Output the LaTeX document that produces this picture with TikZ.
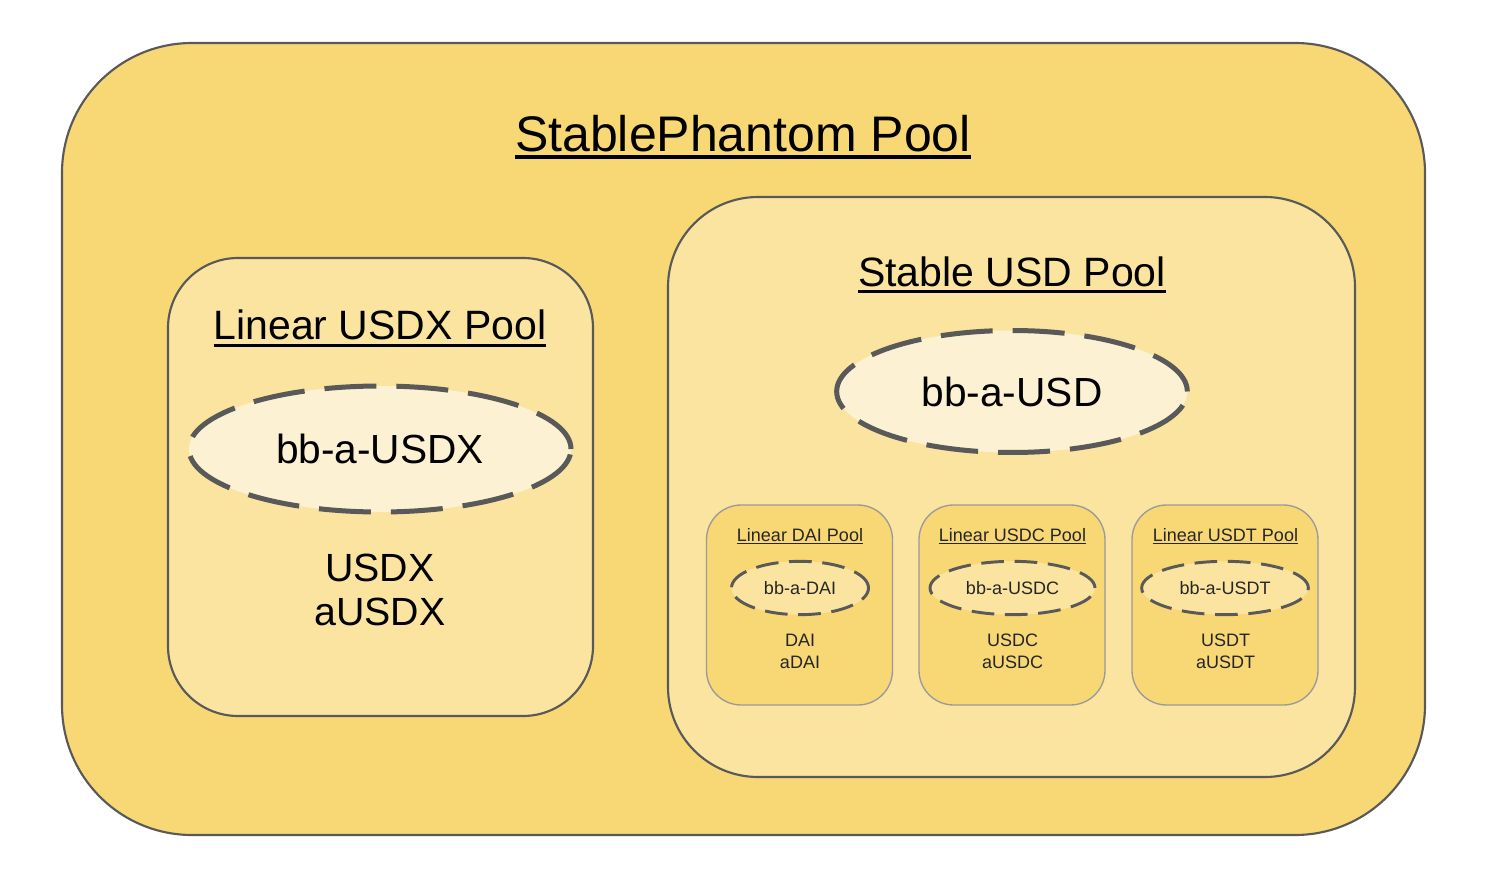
\documentclass[tikz,border=0pt]{standalone}
\usepackage{fontspec}
\setmainfont{Liberation Sans}
\usetikzlibrary{shapes.geometric}
\definecolor{outerY}{HTML}{F8D775}
\definecolor{midY}{HTML}{FAE49F}
\definecolor{paleY}{HTML}{FCF1D2}
\definecolor{edgegray}{HTML}{595959}
\definecolor{smalledge}{HTML}{9A9A9A}
\newsavebox\ulbox
\newcommand\myul[3]{\sbox\ulbox{#3}\rlap{\usebox\ulbox}\rule[-#1]{\wd\ulbox}{#2}}
\begin{document}
\begin{tikzpicture}[x=0.75pt,y=-0.75pt,
  poolbox/.style={draw=edgegray, line width=1.6pt, inner sep=0pt},
  smallbox/.style={draw=smalledge, line width=1pt, fill=outerY, rounded corners=26pt, minimum width=139.5pt, minimum height=150pt, inner sep=0pt},
  bigtoken/.style={ellipse, draw=edgegray, line width=3.75pt, dash pattern=on 39pt off 15pt, fill=paleY, inner sep=0pt, font=\fontsize{30.5}{36}\selectfont},
  smalltoken/.style={ellipse, draw=edgegray, line width=2.2pt, dash pattern=on 17pt off 8pt, fill=midY, inner sep=0pt, minimum height=40pt, font=\fontsize{13.5}{16}\selectfont, text=black!85},
  hugetxt/.style={anchor=base, inner sep=0pt, font=\fontsize{37.5}{44}\selectfont},
  bigtxt/.style={anchor=base, inner sep=0pt, font=\fontsize{30.75}{36}\selectfont},
  midtxt/.style={anchor=base, inner sep=0pt, font=\fontsize{29.5}{35}\selectfont},
  smalltxt/.style={anchor=base, inner sep=0pt, font=\fontsize{13.5}{16}\selectfont, text=black!85},
]
\useasboundingbox (0,0) rectangle (1486,884);

% outer pool
\node[poolbox, fill=outerY, rounded corners=97.5pt, minimum width=1022.25pt, minimum height=594pt] (outer) at (743.5,439) {};
\node[hugetxt] (title) at (743,151.7) {\myul{5.25pt}{3pt}{StablePhantom Pool}};

% linear USDX pool
\node[poolbox, fill=midY, rounded corners=52.5pt, minimum width=318.75pt, minimum height=343.5pt] (usdxpool) at (380.5,487) {};
\node[bigtxt] (usdxtitle) at (380,340) {\myul{4.9pt}{2.25pt}{Linear USDX Pool}};
\node[bigtoken, minimum width=286.5pt, minimum height=94.5pt] (bbusdx) at (380,449) {bb-a-USDX};
\node[midtxt] (usdx) at (380,581.7) {USDX};
\node[midtxt] (ausdx) at (380,625) {aUSDX};

% stable USD pool
\node[poolbox, fill=midY, rounded corners=67.5pt, minimum width=515.25pt, minimum height=435pt] (usdpool) at (1011.5,487) {};
\node[bigtxt] (usdtitle) at (1012,286.7) {\myul{4.9pt}{2.25pt}{Stable USD Pool}};
\node[bigtoken, minimum width=263pt, minimum height=91.5pt] (bbusd) at (1012,391.5) {bb-a-USD};

% small linear pools
\node[smallbox] (daipool) at (799.5,605) {};
\node[smallbox] (usdcpool) at (1012,605) {};
\node[smallbox] (usdtpool) at (1225,605) {};

\node[smalltxt] (daititle) at (800,541.5) {\myul{2.2pt}{0.9pt}{Linear DAI Pool}};
\node[smalltxt] (usdctitle) at (1012.5,541.5) {\myul{2.2pt}{0.9pt}{Linear USDC Pool}};
\node[smalltxt] (usdttitle) at (1225.5,541.5) {\myul{2.2pt}{0.9pt}{Linear USDT Pool}};

\node[smalltoken, minimum width=102.75pt] (bbdai) at (800,588) {bb-a-DAI};
\node[smalltoken, minimum width=123.75pt] (bbusdc) at (1012.5,588) {bb-a-USDC};
\node[smalltoken, minimum width=125pt] (bbusdt) at (1225,588) {bb-a-USDT};

\node[smalltxt] (dai) at (800,646.5) {DAI};
\node[smalltxt] (adai) at (800,668.5) {aDAI};
\node[smalltxt] (usdc) at (1012.5,646.5) {USDC};
\node[smalltxt] (ausdc) at (1012.5,668.5) {aUSDC};
\node[smalltxt] (usdt) at (1225.5,646.5) {USDT};
\node[smalltxt] (ausdt) at (1225.5,668.5) {aUSDT};
\end{tikzpicture}
\end{document}
